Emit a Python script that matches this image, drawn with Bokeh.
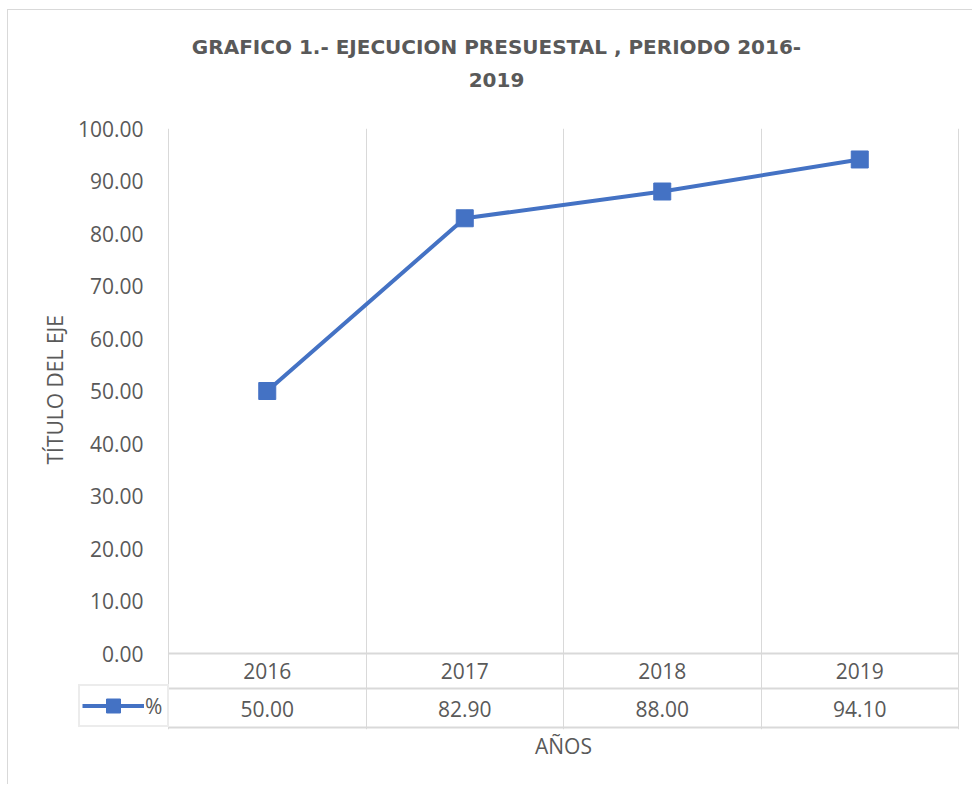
import math
from bokeh.plotting import figure
from bokeh.models import (Range1d, FixedTicker, PrintfTickFormatter, Legend, LegendItem,
                          ColumnDataSource, Title)
from bokeh.core.properties import value
from bokeh.embed import file_html
from bokeh.resources import INLINE

# ---------------- data ----------------
years = ["2016", "2017", "2018", "2019"]
pct = [50.00, 82.90, 88.00, 94.10]
y_ticks = [0, 10, 20, 30, 40, 50, 60, 70, 80, 90, 100]
series_name = "%"
title_line1 = "GRAFICO 1.- EJECUCION PRESUESTAL , PERIODO 2016-"
title_line2 = "2019"
y_title = "TÍTULO DEL EJE"
x_title = "AÑOS"

# ---------------- style / layout (pixels) ----------------
FONT = "Open Sans"
GREY = "#595959"
LINEC = "#d9d9d9"
BLUE = "#4472C4"

W, H = 965, 775             # canvas (page origin 8, 10)
n = len(years)
cat_px = 790 / n            # pixels per category column
ppy = 525 / (y_ticks[-1] - y_ticks[0])   # pixels per value unit
left_cell_px = 91           # legend-key column left of the first category
below_px = 76               # frame extent below zero line
row1_px, row2_px = 35, 74   # table row separators below zero line


def pad(left=0, right=0, top=0, bottom=0):
    return dict(left=left, right=right, top=top, bottom=bottom)


p = figure(width=W, height=H, output_backend="svg", toolbar_location=None, title=None,
           x_range=Range1d(-left_cell_px / cat_px, n + 1 / cat_px),
           y_range=Range1d(-below_px / ppy, y_ticks[-1]),
           min_border_left=69, min_border_right=14,
           min_border_top=118, min_border_bottom=56)
p.styles = {"margin-left": "7px", "margin-top": "9px",
            "border-left": f"1px solid {LINEC}", "border-top": f"1px solid {LINEC}"}
p.outline_line_color = None
p.background_fill_color = "white"
p.border_fill_color = "white"

# two-line centred title
for txt, bpad in ((title_line2, 42), (title_line1, 12)):
    p.add_layout(Title(text=txt, align="center", standoff=0, padding=pad(right=44, bottom=bpad),
                       text_font="DejaVu Sans", text_font_size="20px",
                       text_font_style="bold", text_color=GREY), "above")

# grid: vertical category boundaries only
p.ygrid.grid_line_color = None
p.xgrid.ticker = FixedTicker(ticks=list(range(n + 1)))
p.xgrid.grid_line_color = LINEC
p.xgrid.grid_line_width = 1

# y axis
p.yaxis.ticker = FixedTicker(ticks=y_ticks)
p.yaxis.formatter = PrintfTickFormatter(format="%.2f")
p.yaxis.axis_line_color = None
p.yaxis.major_tick_line_color = None
p.yaxis.minor_tick_line_color = None
p.yaxis.major_tick_out = 0
p.yaxis.major_tick_in = 0
p.yaxis.major_label_standoff = -66
p.yaxis.major_label_text_font = FONT
p.yaxis.major_label_text_font_size = "21px"
p.yaxis.major_label_text_color = GREY

# axis titles (centred on the plot area / the category columns)
p.add_layout(Title(text=y_title, align="left", offset=265, standoff=12,
                   text_font=FONT, text_font_size="21px", text_font_style="normal",
                   text_color=GREY), "left")
p.xaxis.visible = False
p.add_layout(Title(text=x_title, align="center", vertical_align="top", standoff=4,
                   padding=pad(left=90), text_font=FONT, text_font_size="21px",
                   text_font_style="normal", text_color=GREY), "below")

# data table lines
p.segment(x0=[0, 0, 0], x1=[n, n, n],
          y0=[0, -row1_px / ppy, -row2_px / ppy], y1=[0, -row1_px / ppy, -row2_px / ppy],
          line_color=LINEC, line_width=2)

xs = [i + 0.5 for i in range(n)]
tsrc = ColumnDataSource(dict(x=xs, yr=years, val=[f"{v:.2f}" for v in pct],
                             y1=[-17.5 / ppy] * n, y2=[-55 / ppy] * n))
p.text(x="x", y="y1", text="yr", source=tsrc, text_align="center",
       text_baseline="middle", text_font=value(FONT), text_font_size="21px",
       text_color=GREY)
p.text(x="x", y="y2", text="val", source=tsrc, text_align="center",
       text_baseline="middle", text_font=value(FONT), text_font_size="21px",
       text_color=GREY)

# series
src = ColumnDataSource(dict(x=xs, y=pct))
line_r = p.line(x="x", y="y", source=src, line_color=BLUE, line_width=4)
sc_r = p.scatter(x="x", y="y", source=src, marker="square", size=17,
                 fill_color=BLUE, line_color=BLUE)

# legend key = first column of the data table
legend = Legend(items=[LegendItem(label=series_name, renderers=[line_r, sc_r])],
                location=(1, 2), margin=0, padding=2,
                glyph_width=62, glyph_height=35, label_standoff=1, label_width=20,
                label_height=35,
                border_line_color=LINEC, border_line_width=2,
                background_fill_color="white", background_fill_alpha=1,
                label_text_font=FONT, label_text_font_size="21px",
                label_text_color=GREY)
p.add_layout(legend)

open("out.html", "w").write(file_html(p, INLINE))
